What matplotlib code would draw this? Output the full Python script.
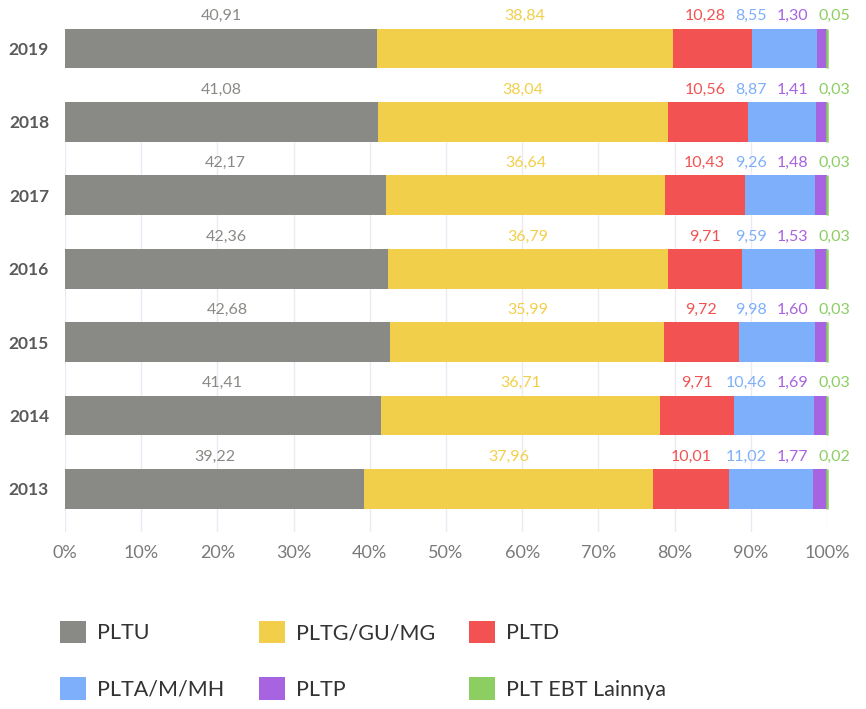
import matplotlib
matplotlib.use("Agg")
import matplotlib.pyplot as plt
from matplotlib.patches import Patch
import numpy as np

years = ["2019", "2018", "2017", "2016", "2015", "2014", "2013"]
series = ["PLTU", "PLTG/GU/MG", "PLTD", "PLTA/M/MH", "PLTP", "PLT EBT Lainnya"]
PLTU = [40.91, 41.08, 42.17, 42.36, 42.68, 41.41, 39.22]
PLTG = [38.84, 38.04, 36.64, 36.79, 35.99, 36.71, 37.96]
PLTD = [10.28, 10.56, 10.43, 9.71, 9.72, 9.71, 10.01]
PLTA = [8.55, 8.87, 9.26, 9.59, 9.98, 10.46, 11.02]
PLTP = [1.30, 1.41, 1.48, 1.53, 1.60, 1.69, 1.77]
EBT = [0.05, 0.03, 0.03, 0.03, 0.03, 0.03, 0.02]
colors = ["#898a85", "#f2cf4a", "#f25252", "#7eaffa", "#a763e0", "#8cce62"]
xticks = [0, 10, 20, 30, 40, 50, 60, 70, 80, 90, 100]

plt.rcParams['font.family'] = ['Lato', 'DejaVu Sans']

data = np.array([PLTU, PLTG, PLTD, PLTA, PLTP, EBT])
totals = data.sum(axis=0)
pct = data / totals * 100

W, H = 866, 709
fig = plt.figure(figsize=(W / 100, H / 100), dpi=100)
ax = fig.add_axes([65 / W, 1 - 532 / H, (827 - 65) / W, 532 / H])

n = len(years)
ypos = np.arange(n)[::-1]  # 2019 at top
bh = 0.54
left = np.zeros(n)
for i in range(len(series)):
    last = i == len(series) - 1
    bars = ax.barh(ypos, pct[i], left=left, height=bh, color=colors[i],
                   edgecolor=colors[i], linewidth=(1.8 if last else 0), zorder=2)
    if last:
        for b in bars:
            b.set_clip_on(False)
    left += pct[i]

ax.set_xlim(0, 100)
ax.set_ylim(-0.586, 6.66)
ax.vlines(xticks, ymin=-0.586, ymax=ypos[1] - bh / 2, color="#ede9f4", lw=1, zorder=1)

ax.set_xticks(xticks)
ax.set_xticklabels([f"{t}%" for t in xticks], fontsize=13, color="#7a7a7a")
ax.set_yticks(ypos)
ax.set_yticklabels(years, fontsize=12.5, fontweight="bold", color="#5a5a5a")
ax.tick_params(axis="x", length=0, pad=9)
ax.tick_params(axis="y", length=0, pad=11.5)
for s in ax.spines.values():
    s.set_visible(False)

# value labels
fig.canvas.draw()
renderer = fig.canvas.get_renderer()
px_per_unit = (827 - 65) / 100.0
gap = 10 / px_per_unit
for r in range(n):
    starts = np.concatenate([[0], np.cumsum(pct[:, r])[:-1]])
    centers = starts + pct[:, r] / 2
    texts = []
    widths = []
    for i in range(len(series)):
        lab = f"{data[i, r]:.2f}".replace(".", ",")
        t = ax.text(centers[i], ypos[r] + bh / 2 + 0.17, lab, ha="center", va="center",
                    fontsize=11.5, color=colors[i], zorder=3)
        texts.append(t)
        widths.append(t.get_window_extent(renderer).width / px_per_unit)
    pos = centers.copy()
    pos[-1] = centers[-1] + 1.0
    for i in range(len(series) - 2, -1, -1):
        lim = pos[i + 1] - (widths[i] + widths[i + 1]) / 2 - gap
        pos[i] = min(centers[i], lim)
    for t, p in zip(texts, pos):
        t.set_x(p)

handles = [Patch(facecolor=c, edgecolor="none") for c in colors]
order = [0, 3, 1, 4, 2, 5]
fs = 15.5
fig.legend([handles[k] for k in order], [series[k] for k in order],
           ncol=3, loc="upper left", bbox_to_anchor=(60 / W, 1 - 621 / H),
           frameon=False, fontsize=fs, handlelength=1.21, handleheight=1.21,
           handletextpad=0.51, labelspacing=1.58, columnspacing=1.6, borderpad=0,
           borderaxespad=0, labelcolor="#333333")

fig.savefig("out.png", dpi=100, facecolor="white")
